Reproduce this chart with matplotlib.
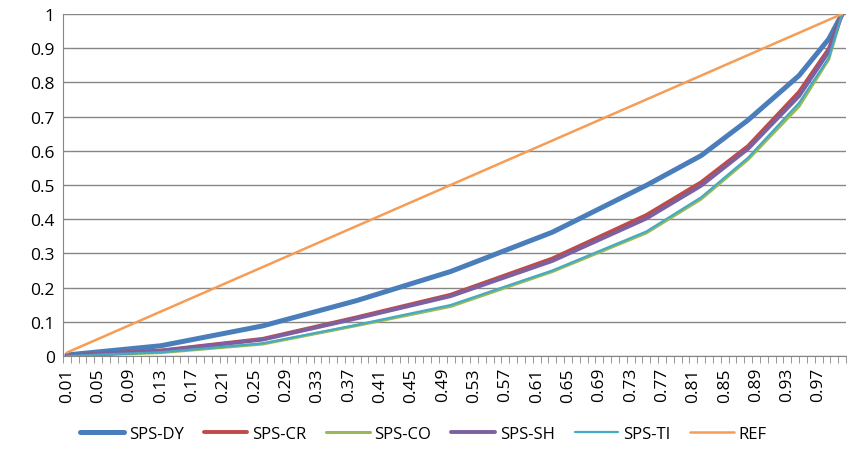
import numpy as np
from matplotlib import pyplot as plt

p = [0.01, 0.13, 0.26, 0.38, 0.50, 0.63, 0.75, 0.82, 0.88, 0.945, 0.983, 1.0]

sps_dy = [0.003, 0.030, 0.088, 0.162, 0.247, 0.362, 0.499, 0.586, 0.690, 0.820, 0.927, 1.0]
sps_cr = [0.001, 0.016, 0.050, 0.113, 0.179, 0.285, 0.412, 0.508, 0.614, 0.772, 0.898, 1.0]
sps_co = [0.0, 0.010, 0.035, 0.089, 0.145, 0.247, 0.360, 0.459, 0.575, 0.730, 0.868, 1.0]
sps_sh = [0.001, 0.015, 0.048, 0.110, 0.175, 0.278, 0.402, 0.498, 0.606, 0.760, 0.890, 1.0]
sps_ti = [0.0, 0.011, 0.037, 0.091, 0.149, 0.250, 0.364, 0.464, 0.580, 0.740, 0.872, 1.0]
ref = [0.01, 0.13, 0.26, 0.38, 0.50, 0.63, 0.75, 0.82, 0.88, 0.945, 0.983, 1.0]

tick_labels = ['%.2f' % (0.01 + 0.04 * i) for i in range(25)]

fig = plt.figure(figsize=(8.47, 4.56), dpi=100)
ax = fig.add_axes([63 / 847, 1 - 357 / 456, 783 / 847, 342 / 456])

style = dict(solid_joinstyle='round', solid_capstyle='round')
ax.plot(p, sps_dy, color='#4A7EBB', lw=3.6, label='SPS-DY', **style)
ax.plot(p, sps_cr, color='#BE4B48', lw=2.8, label='SPS-CR', **style)
ax.plot(p, sps_co, color='#98B954', lw=2.2, label='SPS-CO', **style)
ax.plot(p, sps_sh, color='#7D60A0', lw=2.8, label='SPS-SH', **style)
ax.plot(p, sps_ti, color='#46AAC5', lw=1.6, label='SPS-TI', **style)
ax.plot(p, ref, color='#F59D56', lw=1.8, label='REF', **style)

ax.set_xlim(0.005, 1.005)
ax.set_ylim(0, 1)
ax.set_yticks(np.arange(0, 1.01, 0.1))
ax.set_yticklabels(['0', '0.1', '0.2', '0.3', '0.4', '0.5', '0.6', '0.7', '0.8', '0.9', '1'])
ax.yaxis.grid(True, color='#868686', lw=1)
ax.set_axisbelow(True)

ax.set_xticks([0.01 + 0.04 * i for i in range(25)])
ax.set_xticklabels(tick_labels, rotation=90)
ax.set_xticks([0.005 + 0.01 * i for i in range(101)], minor=True)
ax.tick_params(axis='x', which='major', length=0, pad=8)
ax.tick_params(axis='x', which='minor', length=5, color='#868686')
ax.tick_params(axis='y', length=0, pad=6)
ax.tick_params(labelsize=12.5)

for s in ['top', 'right']:
    ax.spines[s].set_visible(False)
ax.spines['left'].set_color('#868686')
ax.spines['bottom'].set_color('#868686')

for lab in ax.get_xticklabels() + ax.get_yticklabels():
    lab.set_family('Open Sans')

fig.legend(loc='center', bbox_to_anchor=(0.5, 1 - 435 / 456), ncol=6, frameon=False,
           prop={'family': 'Open Sans', 'size': 12}, handlelength=2.6, columnspacing=1.2,
           handletextpad=0.3)

fig.savefig('out.png', dpi=100)
